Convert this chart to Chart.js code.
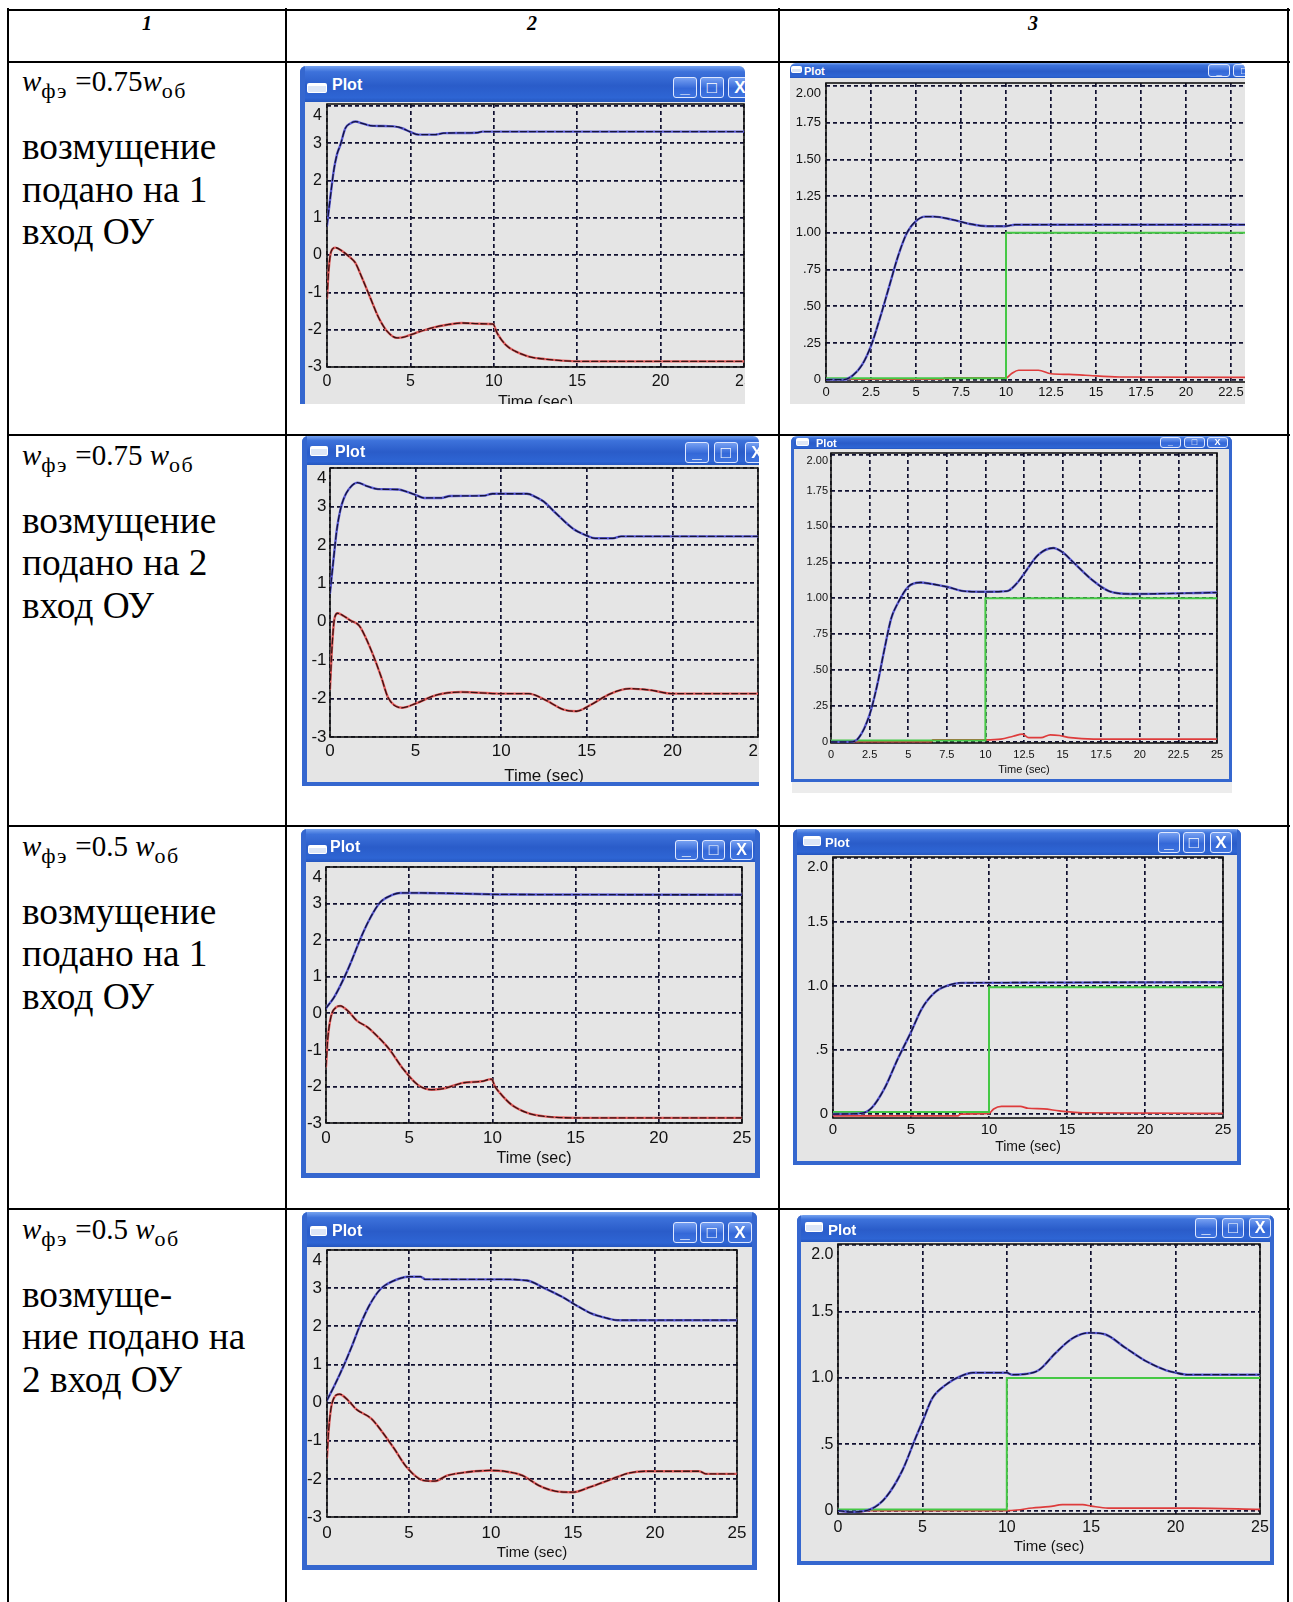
<!DOCTYPE html>
<html><head><meta charset="utf-8">
<script src="https://cdn.jsdelivr.net/npm/chart.js@4.4.1/dist/chart.umd.min.js"></script>
<style>
html,body{margin:0;padding:0;background:#fff;}
body{width:1293px;height:1602px;position:relative;overflow:hidden;font-family:"Liberation Serif","Times New Roman",serif;color:#000;}
.hl{position:absolute;background:#000;height:2px;left:7px;width:1283px;}
.vl{position:absolute;background:#000;width:2px;top:8px;height:1600px;}
.hd{position:absolute;top:13px;width:60px;margin-left:-30px;line-height:20px;font-size:20px;font-style:italic;font-weight:bold;text-align:center;}
.tx{position:absolute;left:22px;font-size:37.3px;line-height:42.5px;white-space:nowrap;}
.f{position:absolute;left:22px;font-size:29px;line-height:29px;white-space:nowrap;}
.f sub{font-size:22px;letter-spacing:1.5px;vertical-align:baseline;position:relative;top:7px;}
.win{position:absolute;overflow:hidden;background:#e5e5e5;border-radius:6px 6px 0 0;}
.win canvas{position:absolute;z-index:1;}
.tb{position:absolute;left:0;top:0;z-index:3;background:linear-gradient(180deg,#76a3f0 0%,#3d72db 16%,#2a5cc9 55%,#2e65d4 88%,#2456bf 100%);}
.ttl{position:absolute;color:#fff;font-weight:bold;font-family:"Liberation Sans",Arial,sans-serif;z-index:4;white-space:nowrap;}
.ico{position:absolute;z-index:4;box-sizing:border-box;background:#dde6f6;border:1px solid #fff;border-top-width:3px;border-radius:2px;}
.btn{position:absolute;z-index:4;box-sizing:border-box;border:1px solid #dfe8ff;border-radius:3px;background:linear-gradient(180deg,#76a0f2 0%,#3468d8 55%,#3f74e0 100%);color:#fff;font-family:"Liberation Sans",Arial,sans-serif;font-weight:bold;text-align:center;overflow:hidden;}
.fr{position:absolute;z-index:3;background:#3567cf;}
</style></head>
<body>
<!-- table grid -->
<div class="hl" style="top:8.5px"></div>
<div class="hl" style="top:60.5px"></div>
<div class="hl" style="top:434px"></div>
<div class="hl" style="top:825px"></div>
<div class="hl" style="top:1208px"></div>
<div class="vl" style="left:7px"></div>
<div class="vl" style="left:285px"></div>
<div class="vl" style="left:778px"></div>
<div class="vl" style="left:1287px"></div>
<div class="hd" style="left:147px">1</div>
<div class="hd" style="left:532px">2</div>
<div class="hd" style="left:1033px">3</div>

<div class="f" style="top:67.2px"><i>w</i><sub>фэ</sub> =0.75<i>w</i><sub>об</sub></div>
<div class="tx" style="top:126.4px">возмущение<br>подано на 1<br>вход ОУ</div>
<div class="f" style="top:440.6px"><i>w</i><sub>фэ</sub> =0.75 <i>w</i><sub>об</sub></div>
<div class="tx" style="top:499.9px">возмущение<br>подано на 2<br>вход ОУ</div>
<div class="f" style="top:831.6px"><i>w</i><sub>фэ</sub> =0.5 <i>w</i><sub>об</sub></div>
<div class="tx" style="top:890.9px">возмущение<br>подано на 1<br>вход ОУ</div>
<div class="f" style="top:1214.6px"><i>w</i><sub>фэ</sub> =0.5 <i>w</i><sub>об</sub></div>
<div class="tx" style="top:1273.9px">возмуще-<br>ние подано на<br>2 вход ОУ</div>

<div style="position:absolute;left:792px;top:782px;width:440px;height:11px;background:#ececec;"></div>

<script>
// ---------------- tick values and labels ----------------
const xTickWhole = [0, 5, 10, 15, 20, 25];
const xLabWhole  = ['0', '5', '10', '15', '20', '25'];
const xTickHalf  = [0, 2.5, 5, 7.5, 10, 12.5, 15, 17.5, 20, 22.5, 25];
const xLabHalf   = ['0', '2.5', '5', '7.5', '10', '12.5', '15', '17.5', '20', '22.5', '25'];
const yTickInt   = [-3, -2, -1, 0, 1, 2, 3, 4];
const yLabInt    = ['-3', '-2', '-1', '0', '1', '2', '3', '4'];
const yTickQ     = [0, 0.25, 0.5, 0.75, 1, 1.25, 1.5, 1.75, 2];
const yLabQ      = ['0', '.25', '.50', '.75', '1.00', '1.25', '1.50', '1.75', '2.00'];
const yTickHalf  = [0, 0.5, 1, 1.5, 2];
const yLabHalf   = ['0', '.5', '1.0', '1.5', '2.0'];

// ---------------- series (time, value) ----------------
// Row 1, column 2  (w=0.75, disturbance on input 1)
const A_blue_t = [0, 0.2, 0.4, 0.6, 0.8, 1.1, 1.4, 1.7, 2.1, 2.6, 3.2, 4.0, 4.5, 5.0, 5.5, 6.5, 7.0, 9.0, 9.3, 25];
const A_blue_y = [0.8, 1.55, 2.25, 2.7, 2.95, 3.4, 3.53, 3.58, 3.53, 3.47, 3.46, 3.45, 3.4, 3.3, 3.23, 3.23, 3.27, 3.28, 3.31, 3.31];
const A_red_t  = [0, 0.1, 0.25, 0.5, 0.9, 1.3, 1.7, 2.1, 2.6, 3.1, 3.6, 4.2, 4.6, 5.3, 6.3, 7.3, 8.1, 9.1, 9.95, 10.2, 10.7, 11.3, 12.1, 13.1, 14.1, 15.1, 25];
const A_red_y  = [-1.15, -0.4, 0.1, 0.2, 0.11, -0.03, -0.21, -0.61, -1.15, -1.68, -2.04, -2.22, -2.2, -2.09, -1.95, -1.86, -1.82, -1.84, -1.85, -2.09, -2.4, -2.58, -2.72, -2.79, -2.83, -2.85, -2.85];
// Row 1, column 3
const B_blue_t  = [0, 1.0, 1.5, 2.0, 2.5, 3.0, 3.5, 4.0, 4.5, 5.0, 5.5, 6.0, 7.0, 8.0, 9.0, 10.0, 10.5, 25];
const B_blue_y  = [0, 0, 0.03, 0.1, 0.23, 0.42, 0.63, 0.84, 1.0, 1.08, 1.11, 1.11, 1.09, 1.06, 1.045, 1.045, 1.055, 1.055];
const B_green_t = [0, 10, 10, 25];
const B_green_y = [0.01, 0.01, 1.0, 1.0];
const B_red_t   = [0, 6.5, 6.6, 10, 10.3, 10.7, 11.8, 12.5, 13.5, 14.4, 16.3, 25];
const B_red_y   = [0.003, 0.003, 0.012, 0.012, 0.04, 0.064, 0.064, 0.04, 0.036, 0.03, 0.018, 0.015];
// Row 2, column 2  (w=0.75, disturbance on input 2)
const C_blue_t = [0, 0.2, 0.4, 0.6, 0.8, 1.1, 1.6, 2.2, 2.8, 4.0, 4.5, 5.0, 5.5, 6.5, 7.0, 9.0, 9.5, 11.5, 12.0, 12.5, 13.2, 14.2, 15.0, 15.5, 16.5, 17.0, 25];
const C_blue_y = [0.75, 1.6, 2.4, 2.9, 3.2, 3.45, 3.62, 3.52, 3.45, 3.44, 3.38, 3.3, 3.22, 3.22, 3.27, 3.28, 3.33, 3.33, 3.25, 3.12, 2.82, 2.42, 2.24, 2.17, 2.17, 2.22, 2.22];
const C_red_t  = [0, 0.1, 0.25, 0.45, 0.8, 1.2, 1.7, 2.1, 2.6, 3.0, 3.4, 4.2, 5.0, 6.2, 7.7, 9.8, 11.6, 12.6, 13.6, 14.4, 15.2, 16.4, 17.5, 18.7, 20, 25];
const C_red_y  = [-1.75, -0.8, 0.05, 0.22, 0.15, 0.03, -0.1, -0.43, -0.96, -1.45, -1.98, -2.24, -2.13, -1.91, -1.83, -1.87, -1.87, -2.04, -2.28, -2.33, -2.17, -1.87, -1.74, -1.78, -1.87, -1.87];
// Row 2, column 3
const D_blue_t  = [0, 1.2, 1.8, 2.5, 3.0, 3.45, 3.9, 4.3, 5.0, 5.8, 6.5, 7.5, 8.6, 10, 11.4, 12.0, 12.5, 13.4, 14.4, 15.0, 15.7, 17.0, 18.0, 19.4, 25];
const D_blue_y  = [0, 0, 0.03, 0.19, 0.4, 0.64, 0.86, 0.96, 1.08, 1.11, 1.1, 1.08, 1.05, 1.045, 1.05, 1.1, 1.17, 1.3, 1.35, 1.32, 1.25, 1.12, 1.05, 1.03, 1.04];
const D_green_t = [0, 10, 10, 25];
const D_green_y = [0.01, 0.01, 1.0, 1.0];
const D_red_t   = [0, 6.5, 6.6, 10, 11, 11.8, 12.4, 12.8, 13.6, 14.2, 14.8, 15.5, 17, 25];
const D_red_y   = [0.003, 0.003, 0.015, 0.015, 0.02, 0.04, 0.055, 0.03, 0.03, 0.05, 0.045, 0.03, 0.02, 0.02];
// Row 3, column 2  (w=0.5, disturbance on input 1)
const E_blue_t = [0, 0.5, 1.15, 1.55, 2.05, 2.65, 3.25, 3.95, 4.45, 5.75, 10.8, 25];
const E_blue_y = [0.14, 0.45, 1.03, 1.45, 2.02, 2.6, 3.03, 3.23, 3.29, 3.29, 3.25, 3.24];
const E_red_t  = [0, 0.1, 0.3, 0.6, 0.85, 1.35, 1.85, 2.5, 3.0, 3.8, 4.6, 5.5, 6.35, 7.15, 8.15, 9.35, 9.95, 10.15, 10.55, 11.15, 12.15, 13.15, 15.15, 25];
const E_red_y  = [-1.45, -0.73, -0.09, 0.16, 0.2, 0.05, -0.2, -0.38, -0.59, -0.98, -1.5, -1.95, -2.09, -2.05, -1.91, -1.86, -1.8, -2.0, -2.23, -2.5, -2.73, -2.82, -2.86, -2.86];
// Row 3, column 3
const F_blue_t  = [0, 1.8, 2.47, 3.3, 4.17, 5.0, 5.68, 6.53, 7.38, 8.2, 25];
const F_blue_y  = [0, 0.005, 0.047, 0.2, 0.435, 0.64, 0.82, 0.95, 1.005, 1.025, 1.03];
const F_green_t = [0, 10, 10, 25];
const F_green_y = [0.015, 0.015, 0.99, 0.99];
const F_red_t   = [0, 8, 8.2, 10, 10.3, 10.8, 12, 12.5, 13.5, 14.5, 16, 25];
const F_red_y   = [-0.015, -0.015, 0.0, 0.005, 0.04, 0.06, 0.06, 0.045, 0.04, 0.025, 0.01, 0.005];
// Row 4, column 2  (w=0.5, disturbance on input 2)
const G_blue_t = [0, 0.47, 1.05, 1.5, 2.0, 2.6, 3.25, 3.95, 5.0, 5.7, 6.0, 10.6, 12.2, 13.25, 14.3, 15.15, 16.1, 17.1, 17.7, 25];
const G_blue_y = [0.06, 0.46, 1.0, 1.46, 2.01, 2.56, 2.97, 3.17, 3.3, 3.3, 3.23, 3.23, 3.2, 3.0, 2.78, 2.56, 2.34, 2.21, 2.16, 2.16];
const G_red_t  = [0, 0.1, 0.3, 0.77, 1.28, 1.8, 2.7, 3.3, 4.1, 4.85, 5.85, 6.55, 7.35, 8.6, 9.9, 10.8, 11.9, 12.9, 13.9, 15.0, 16.0, 17.4, 18.4, 19.4, 22.7, 23.1, 25];
const G_red_y  = [-1.43, -0.73, -0.03, 0.22, 0.06, -0.18, -0.42, -0.73, -1.21, -1.69, -2.04, -2.06, -1.91, -1.82, -1.78, -1.8, -1.91, -2.17, -2.32, -2.35, -2.22, -2.0, -1.85, -1.8, -1.8, -1.87, -1.87];
// Row 4, column 3
const H_blue_t  = [0, 0.8, 2.0, 2.8, 3.8, 4.6, 5.0, 5.6, 6.4, 7.2, 8.0, 10.0, 10.3, 11.1, 11.9, 12.9, 13.9, 14.9, 15.8, 17.0, 18.2, 19.4, 20.0, 20.7, 25];
const H_blue_y  = [0, -0.01, 0.015, 0.095, 0.3, 0.55, 0.67, 0.85, 0.95, 1.01, 1.04, 1.04, 1.025, 1.03, 1.06, 1.19, 1.3, 1.34, 1.33, 1.23, 1.13, 1.06, 1.04, 1.025, 1.025];
const H_green_t = [0, 10, 10, 25];
const H_green_y = [0.008, 0.008, 1.0, 1.0];
const H_red_t   = [0, 0.6, 1.2, 1.8, 10, 10.6, 11.5, 12.5, 13.3, 14.5, 15.0, 16.0, 21.0, 25];
const H_red_y   = [0, -0.01, -0.01, 0, 0, 0.005, 0.02, 0.03, 0.045, 0.045, 0.035, 0.02, 0.02, 0.01];

// ---------------- layout (window chrome & plot boxes, page px) ----------------
const charts = [
  {win:{L:300,T:66,R:745,B:404,fl:5,fr:0,fb:0,tH:36,ico:[307,83,20,10],tx:332,tf:16,by:77,bh:21,bw:24,bx:[673,700,728]},
   box:[327,104,744,367], ymin:-3, ymax:4.05, xt:xTickWhole, xl:xLabWhole, yt:yTickInt, yl:yLabInt, fs:16, xpad:5, ypad:5, timeY:402, timeF:16,
   s:[{t:A_blue_t,y:A_blue_y,k:'blue'},{t:A_red_t,y:A_red_y,k:'red'}]},
  {win:{L:790,T:63,R:1245,B:404,fl:0,fr:0,fb:0,tH:15,ico:[791,66,11,7],tx:804,tf:11,by:64,bh:13,bw:22,bx:[1208,1233]},
   box:[826,83,1276,382], ymin:-0.016, ymax:2.02, xt:xTickHalf, xl:xLabHalf, yt:yTickQ, yl:yLabQ, fs:13, xpad:3, ypad:5, timeY:414, timeF:13,
   s:[{t:B_blue_t,y:B_blue_y,k:'blue'},{t:B_green_t,y:B_green_y,k:'green'},{t:B_red_t,y:B_red_y,k:'redThin'}]},
  {win:{L:302,T:436,R:759,B:786,fl:5,fr:0,fb:4,tH:29,ico:[310,446,18,10],tx:335,tf:16,by:442,bh:21,bw:24,bx:[685,714,745]},
   box:[330,468,758,737], ymin:-3, ymax:4, xt:xTickWhole, xl:xLabWhole, yt:yTickInt, yl:yLabInt, fs:17, xpad:4.5, ypad:3.5, timeY:777, timeF:17,
   s:[{t:C_blue_t,y:C_blue_y,k:'blue'},{t:C_red_t,y:C_red_y,k:'red'}]},
  {win:{L:791,T:436,R:1232,B:782,fl:3,fr:3,fb:3,tH:13,ico:[796,438,13,8],tx:816,tf:11,by:437,bh:11,bw:21,bx:[1160,1184,1207]},
   box:[831,453,1217,743], ymin:-0.007, ymax:2.011, xt:xTickHalf, xl:xLabHalf, yt:yTickQ, yl:yLabQ, fs:11, xpad:5.4, ypad:3, timeY:770, timeF:11,
   s:[{t:D_blue_t,y:D_blue_y,k:'blue'},{t:D_green_t,y:D_green_y,k:'green'},{t:D_red_t,y:D_red_y,k:'redThin'}]},
  {win:{L:301,T:829,R:760,B:1178,fl:5,fr:5,fb:5,tH:33,ico:[308,845,19,9],tx:330,tf:16,by:840,bh:20,bw:23,bx:[675,702,730]},
   box:[326,867,742,1123], ymin:-3, ymax:4, xt:xTickWhole, xl:xLabWhole, yt:yTickInt, yl:yLabInt, fs:17, xpad:5, ypad:4, timeY:1158, timeF:16,
   s:[{t:E_blue_t,y:E_blue_y,k:'blue'},{t:E_red_t,y:E_red_y,k:'red'}]},
  {win:{L:793,T:829,R:1241,B:1165,fl:4,fr:4,fb:4,tH:26,ico:[803,836,18,10],tx:825,tf:13,by:832,bh:21,bw:22,bx:[1158,1183,1210]},
   box:[833,857,1223,1118], ymin:-0.031, ymax:2.008, xt:xTickWhole, xl:xLabWhole, yt:yTickHalf, yl:yLabHalf, fs:15, xpad:3, ypad:5, timeY:1148, timeF:14,
   s:[{t:F_blue_t,y:F_blue_y,k:'blue'},{t:F_green_t,y:F_green_y,k:'green'},{t:F_red_t,y:F_red_y,k:'redThin'}]},
  {win:{L:302,T:1212,R:757,B:1570,fl:5,fr:5,fb:5,tH:35,ico:[310,1226,17,10],tx:332,tf:16,by:1222,bh:21,bw:24,bx:[673,700,728]},
   box:[327,1250,737,1517], ymin:-3, ymax:4, xt:xTickWhole, xl:xLabWhole, yt:yTickInt, yl:yLabInt, fs:17, xpad:6, ypad:5, timeY:1553, timeF:15,
   s:[{t:G_blue_t,y:G_blue_y,k:'blue'},{t:G_red_t,y:G_red_y,k:'red'}]},
  {win:{L:797,T:1215,R:1274,B:1565,fl:4,fr:4,fb:4,tH:27,ico:[805,1222,18,10],tx:828,tf:15,by:1218,bh:20,bw:22,bx:[1195,1222,1249]},
   box:[838,1244,1260,1514], ymin:-0.025, ymax:2.01, xt:xTickWhole, xl:xLabWhole, yt:yTickHalf, yl:yLabHalf, fs:16, xpad:4, ypad:4.5, timeY:1547, timeF:15,
   s:[{t:H_blue_t,y:H_blue_y,k:'blue'},{t:H_green_t,y:H_green_y,k:'green'},{t:H_red_t,y:H_red_y,k:'redThin'}]}
];

const boxPlugin = {
  id: 'plotBox',
  beforeDatasetsDraw(chart) {
    const {ctx, chartArea: a} = chart;
    ctx.save();
    ctx.strokeStyle = '#151515';
    ctx.lineWidth = 1.6;
    ctx.strokeRect(a.left, a.top, a.right - a.left, a.bottom - a.top);
    ctx.restore();
  }
};

function el(parent, cls, st) {
  const d = document.createElement('div');
  d.className = cls;
  for (const k in st) d.style[k] = (typeof st[k] === 'number') ? st[k] + 'px' : st[k];
  parent.appendChild(d);
  return d;
}

function pts(t, y) { return t.map((v, i) => ({x: v, y: y[i]})); }

function buildDatasets(series) {
  const blue = [], green = [], red = [];
  series.forEach(s => {
    const d = pts(s.t, s.y);
    if (s.k === 'blue') {
      blue.push({data: d, borderColor: '#14143a', borderWidth: 1.3, borderDash: [6, 3], cubicInterpolationMode: 'monotone'});
      blue.push({data: d, borderColor: '#5c5cd8', borderWidth: 2.4, cubicInterpolationMode: 'monotone'});
    } else if (s.k === 'red') {
      red.push({data: d, borderColor: '#3a1212', borderWidth: 1.3, borderDash: [6, 3], cubicInterpolationMode: 'monotone'});
      red.push({data: d, borderColor: '#e45c5c', borderWidth: 2.4, cubicInterpolationMode: 'monotone'});
    } else if (s.k === 'redThin') {
      red.push({data: d, borderColor: '#de3c3c', borderWidth: 1.7, cubicInterpolationMode: 'monotone'});
    } else {
      green.push({data: d, borderColor: '#45c845', borderWidth: 2.0, tension: 0});
    }
  });
  return blue.concat(green, red).map(ds => Object.assign({pointRadius: 0, fill: false}, ds));
}

charts.forEach(c => {
  const w = c.win;
  const win = el(document.body, 'win', {left: w.L, top: w.T, width: w.R - w.L, height: w.B - w.T});
  el(win, 'tb', {width: w.R - w.L, height: w.tH});
  el(win, 'ico', {left: w.ico[0] - w.L, top: w.ico[1] - w.T, width: w.ico[2], height: w.ico[3]});
  const t = el(win, 'ttl', {left: w.tx - w.L, top: 0, height: w.tH, lineHeight: (w.tH + 2) + 'px', fontSize: w.tf});
  t.textContent = 'Plot';
  const glyphs = ['_', '\u25A1', 'X'];
  w.bx.forEach((bx, i) => {
    const b = el(win, 'btn', {left: bx - w.L, top: w.by - w.T, width: w.bw, height: w.bh,
      lineHeight: (w.bh - 2) + 'px', fontSize: Math.round(w.bh * 0.8)});
    b.textContent = glyphs[i];
  });
  if (w.fl) el(win, 'fr', {left: 0, top: 0, width: w.fl, height: w.B - w.T});
  if (w.fr) el(win, 'fr', {left: w.R - w.L - w.fr, top: 0, width: w.fr, height: w.B - w.T});
  if (w.fb) el(win, 'fr', {left: 0, top: w.B - w.T - w.fb, width: w.R - w.L, height: w.fb});

  const yw = 45, padT = 14, padR = 16;
  const [bl, bt, br, bb] = c.box;
  const cl = bl - yw, ct = bt - padT, cr = br + padR;
  const cb = Math.round(c.timeY + 0.6 * c.timeF);
  const xh = cb - bb;
  const cv = document.createElement('canvas');
  cv.width = cr - cl; cv.height = cb - ct;
  cv.style.left = (cl - w.L) + 'px'; cv.style.top = (ct - w.T) + 'px';
  cv.style.width = (cr - cl) + 'px'; cv.style.height = (cb - ct) + 'px';
  win.appendChild(cv);

  const font = {family: '"Liberation Sans", Arial, sans-serif', size: c.fs, lineHeight: 1.2};
  const gridCol = '#101030';
  new Chart(cv.getContext('2d'), {
    type: 'line',
    data: {datasets: buildDatasets(c.s)},
    options: {
      responsive: false, animation: false, devicePixelRatio: 1,
      layout: {autoPadding: false, padding: {left: 0, top: padT, right: padR, bottom: 0}},
      plugins: {legend: {display: false}, tooltip: {enabled: false}},
      elements: {point: {radius: 0}, line: {borderCapStyle: 'round'}},
      scales: {
        x: {
          type: 'linear', min: 0, max: 25,
          afterBuildTicks: s => { s.ticks = c.xt.map(v => ({value: v})); },
          afterFit: s => { s.height = xh; s.paddingLeft = 0; s.paddingRight = 0; },
          ticks: {autoSkip: false, maxRotation: 0, padding: c.xpad, color: '#111', font: font,
                  callback: (v, i) => c.xl[i]},
          grid: {color: gridCol, lineWidth: 1.7, drawTicks: false},
          border: {display: false, dash: [4, 3]},
          title: {display: true, text: 'Time (sec)', color: '#111', padding: 0,
                  font: {family: '"Liberation Sans", Arial, sans-serif', size: c.timeF, lineHeight: 1.2}}
        },
        y: {
          type: 'linear', min: c.ymin, max: c.ymax,
          afterBuildTicks: s => { s.ticks = c.yt.map(v => ({value: v})); },
          afterFit: s => { s.width = yw; s.paddingTop = 0; s.paddingBottom = 0; },
          ticks: {autoSkip: false, padding: c.ypad, color: '#111', font: font,
                  callback: (v, i, arr) => (i === arr.length - 1 ? ['', c.yl[i]] : c.yl[i])},
          grid: {color: gridCol, lineWidth: 1.7, drawTicks: false},
          border: {display: false, dash: [4, 3]}
        }
      }
    },
    plugins: [boxPlugin]
  });
});
</script>
</body></html>
